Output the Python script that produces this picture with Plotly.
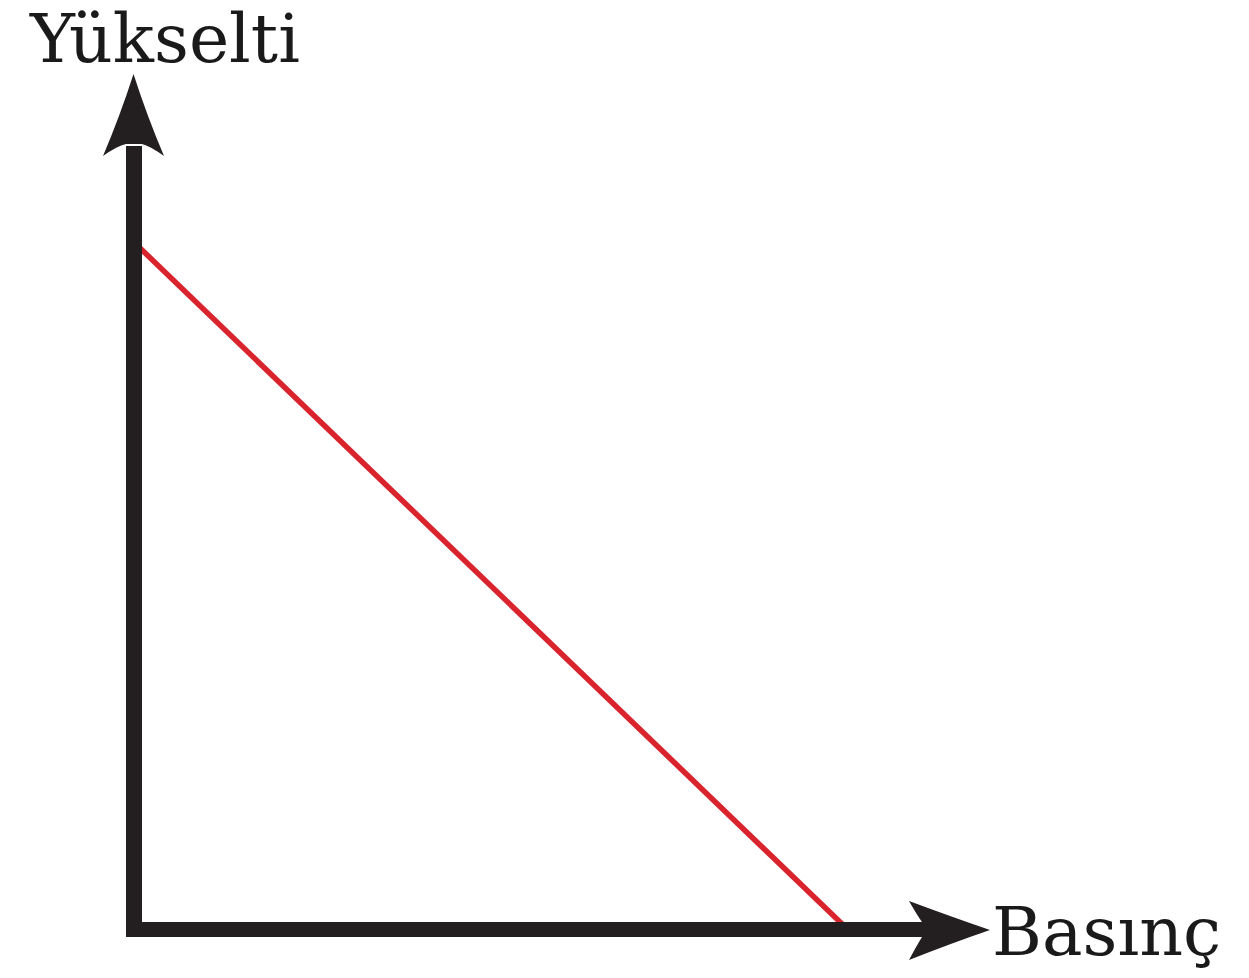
import plotly.graph_objects as go

# Data: the red line (pressure vs. altitude, arbitrary units)
basinc = [0, 100]
yukselti = [100, 0]
x_label = "Basınç"
y_label = "Yükselti"

# page has an 8px body margin; figure is sized to fit inside the window
OFF = 8
W, H = 1249 - 2 * OFF, 978 - 2 * OFF
# axis ranges chosen so the origin sits at the axes' corner
x_range = [-17.65, 155.08]
y_range = [-5.89, 134.09]

def px(xp):
    return (xp - OFF) / W

def py(yp):
    return 1 - (yp - OFF) / H

ink = "#231f20"
red = "#d9232d"

fig = go.Figure()
fig.add_trace(go.Scatter(x=basinc, y=yukselti, mode="lines",
                         line=dict(color=red, width=5.5), hoverinfo="skip",
                         showlegend=False))

shapes = []
# vertical axis shaft
shapes.append(dict(type="line", xref="paper", yref="paper",
                   x0=px(134), x1=px(134), y0=py(937), y1=py(146),
                   line=dict(color=ink, width=16), layer="above"))
# horizontal axis shaft
shapes.append(dict(type="line", xref="paper", yref="paper",
                   x0=px(126), x1=px(924), y0=py(929.5), y1=py(929.5),
                   line=dict(color=ink, width=15), layer="above"))

# vertical arrowhead (slightly swept back)
vp = (f"M {px(133.5)},{py(74)} "
      f"Q {px(147)},{py(116)} {px(164)},{py(156)} "
      f"Q {px(150)},{py(146)} {px(142)},{py(144)} "
      f"L {px(126)},{py(144)} "
      f"Q {px(117)},{py(146)} {px(103)},{py(156)} "
      f"Q {px(120)},{py(116)} {px(133.5)},{py(74)} Z")
shapes.append(dict(type="path", xref="paper", yref="paper", path=vp,
                   fillcolor=ink, line=dict(width=0), layer="above"))
# horizontal arrowhead
hp = (f"M {px(990)},{py(930)} "
      f"Q {px(952)},{py(917)} {px(909)},{py(901)} "
      f"Q {px(917)},{py(915)} {px(922)},{py(922)} "
      f"L {px(922)},{py(937)} "
      f"Q {px(917)},{py(945)} {px(909)},{py(960)} "
      f"Q {px(952)},{py(943)} {px(990)},{py(930)} Z")
shapes.append(dict(type="path", xref="paper", yref="paper", path=hp,
                   fillcolor=ink, line=dict(width=0), layer="above"))

font = dict(family="DejaVu Serif", size=68, color="#1a1a1a")
annotations = [
    dict(text=y_label, xref="paper", yref="paper", x=px(27), y=py(38),
         xanchor="left", yanchor="middle", showarrow=False, font=font),
    dict(text=x_label, xref="paper", yref="paper", x=px(990), y=py(931),
         xanchor="left", yanchor="middle", showarrow=False, font=font),
]

fig.update_layout(
    width=W, height=H,
    margin=dict(l=0, r=0, t=0, b=0),
    paper_bgcolor="white", plot_bgcolor="white",
    xaxis=dict(range=x_range, visible=False, fixedrange=True),
    yaxis=dict(range=y_range, visible=False, fixedrange=True),
    shapes=shapes, annotations=annotations,
)
fig.write_html("out.html")
